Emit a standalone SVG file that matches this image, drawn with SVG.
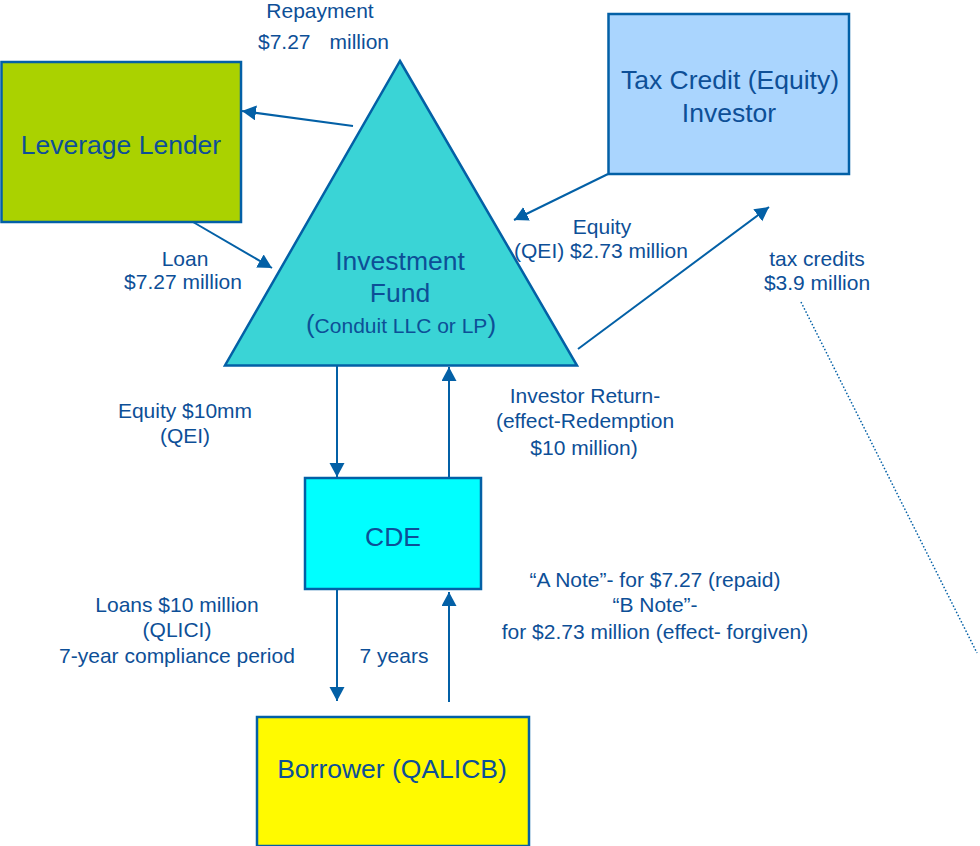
<svg xmlns="http://www.w3.org/2000/svg" width="980" height="846" viewBox="0 0 980 846">
<defs>
<style>
.box{stroke:#0360A6;stroke-width:2.5}
.t{font-family:"Liberation Sans",Arial,sans-serif;fill:#0D4F97;text-anchor:middle}
.big{font-size:26.5px}
.lbl{font-size:21px}
.c{stroke:#0360A6;stroke-width:2;fill:none}
</style>
<marker id="ah" markerUnits="userSpaceOnUse" markerWidth="15" markerHeight="16" refX="14" refY="7.5" orient="auto">
<path d="M0,0 L14,7.5 L0,15 z" fill="#0360A6"/>
</marker>
</defs>
<rect width="980" height="846" fill="#fff"/>

<g id="leverage-lender">
<rect class="box" x="1.5" y="62" width="239.5" height="160" fill="#AAD200"/>
<text class="t big" x="121" y="154">Leverage Lender</text>
</g>

<g id="tax-credit-investor">
<rect class="box" x="608.5" y="14" width="240.5" height="160" fill="#AAD5FE"/>
<text class="t big" x="730" y="89">Tax Credit (Equity)</text>
<text class="t big" x="729" y="122">Investor</text>
</g>

<g id="investment-fund">
<polygon class="box" points="400,61 577,365.5 225,365.5" fill="#3AD4D6"/>
<text class="t big" x="400" y="270">Investment</text>
<text class="t big" x="400" y="302">Fund</text>
<text class="t" x="401" y="333" font-size="21"><tspan font-size="26">(</tspan>Conduit LLC or LP<tspan font-size="26">)</tspan></text>
</g>

<g id="cde">
<rect class="box" x="305" y="478" width="176" height="111" fill="#00FFFF"/>
<text class="t big" x="393" y="546">CDE</text>
</g>

<g id="borrower">
<rect class="box" x="257" y="717" width="272" height="129" fill="#FFFA00"/>
<text class="t big" x="392" y="778">Borrower (QALICB)</text>
</g>

<g id="connectors">
<line class="c" x1="353" y1="126" x2="242" y2="111" marker-end="url(#ah)"/>
<line class="c" x1="193" y1="222" x2="272" y2="268" marker-end="url(#ah)"/>
<line class="c" x1="608" y1="174" x2="514" y2="220" marker-end="url(#ah)"/>
<line class="c" x1="578" y1="349" x2="769" y2="207" marker-end="url(#ah)"/>
<line class="c" x1="337" y1="366" x2="337" y2="477" marker-end="url(#ah)"/>
<line class="c" x1="449" y1="478" x2="449" y2="367" marker-end="url(#ah)"/>
<line class="c" x1="337" y1="590" x2="337" y2="701" marker-end="url(#ah)"/>
<line class="c" x1="449" y1="702" x2="449" y2="592" marker-end="url(#ah)"/>
<line x1="801" y1="302" x2="977" y2="653" stroke="#0360A6" stroke-width="1.5" stroke-dasharray="1.5,2" fill="none"/>
</g>

<g id="labels">
<text class="t lbl" x="320" y="18">Repayment</text>
<text class="t lbl" x="258" y="49" style="text-anchor:start">$7.27</text>
<text class="t lbl" x="389" y="49" style="text-anchor:end">million</text>
<text class="t lbl" x="185" y="266">Loan</text>
<text class="t lbl" x="183" y="289">$7.27 million</text>
<text class="t lbl" x="602" y="234">Equity</text>
<text class="t lbl" x="601" y="258">(QEI) $2.73 million</text>
<text class="t lbl" x="817" y="266">tax credits</text>
<text class="t lbl" x="817" y="290">$3.9 million</text>
<text class="t lbl" x="185" y="418">Equity $10mm</text>
<text class="t lbl" x="185" y="443">(QEI)</text>
<text class="t lbl" x="585" y="403">Investor Return-</text>
<text class="t lbl" x="585" y="428">(effect-Redemption</text>
<text class="t lbl" x="584" y="455">$10 million)</text>
<text class="t lbl" x="177" y="612">Loans $10 million</text>
<text class="t lbl" x="177" y="637">(QLICI)</text>
<text class="t lbl" x="177" y="663">7-year compliance period</text>
<text class="t lbl" x="394" y="663">7 years</text>
<text class="t lbl" x="655" y="587">“A Note”- for $7.27 (repaid)</text>
<text class="t lbl" x="655" y="612">“B Note”-</text>
<text class="t lbl" x="655" y="639">for $2.73 million (effect- forgiven)</text>
</g>
</svg>
